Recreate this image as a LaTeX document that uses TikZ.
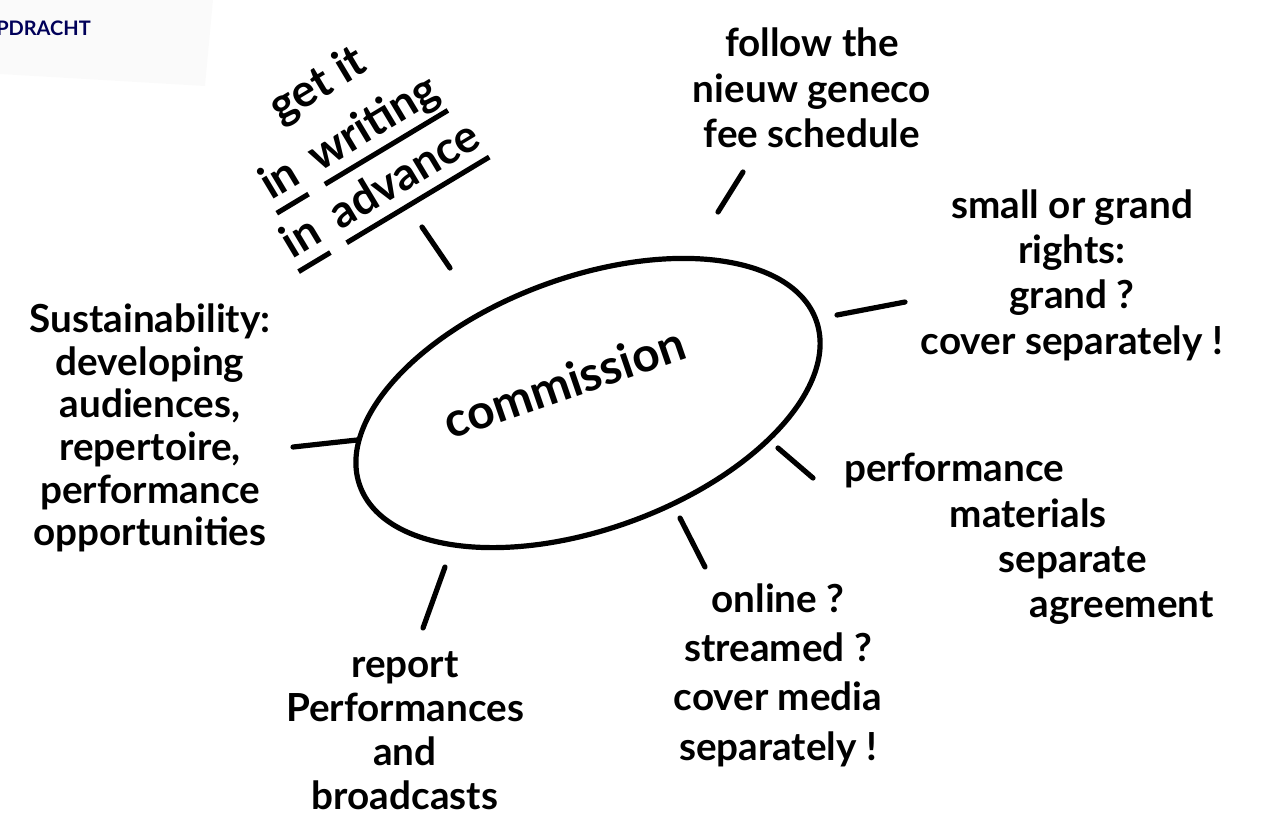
\documentclass[tikz,border=0pt]{standalone}
\usepackage{fontspec}
\setmainfont{Lato}
\usetikzlibrary{shapes.geometric}

\tikzset{
  scribble/.style={line width=3.9pt, line cap=round},
  hub/.style={draw, ellipse, line width=3.9pt, minimum width=364pt, minimum height=189pt, inner sep=0pt},
  note/.style={align=center, inner sep=0.75pt, font=\bfseries\fontsize{29}{34}\selectfont},
}
% underlined word, drawn as a thick stroke
\newcommand{\scrawlword}[1]{\setbox0=\hbox{#1}\rlap{\kern-1pt\raisebox{-12pt}{\rule{\wd0}{3.8pt}}}\box0\relax}

\begin{document}
\begin{tikzpicture}[x=0.75pt,y=0.75pt,yscale=-1,xscale=1]
  \useasboundingbox (0,0) rectangle (1274,819);
  %paper corner
  \fill[gray!4] (0,0) -- (213,0) -- (205,86) -- (0,74) -- cycle;

  % Text Node
  \node[anchor=west, inner sep=0pt, text=blue!35!black, font=\bfseries\fontsize{15}{18}\selectfont] (opdracht) at (-4,28) {PDRACHT};

  % Ellipse
  \node[hub, rotate=20] (comm) at (588,403) {};
  % Text Node
  \node[inner sep=0.75pt, rotate=19, font=\bfseries\fontsize{36}{40}\selectfont] (commtext) at (564,382) {commission};

  % Text Node
  \node[note, rotate=31, font=\bfseries\fontsize{34}{46}\selectfont] (writing) at (352,142) {get it\\ \scrawlword{in}\hspace{6pt} \scrawlword{writing}\\ \scrawlword{in}\hspace{6pt} \scrawlword{advance}};
  % Text Node
  \node[note] (fees) at (812,88) {follow the\\ nieuw geneco\\ fee schedule};
  % Text Node
  \node[note] (rights) at (1072,275) {small or grand\\ rights:\\ grand ?\\ cover separately !};
  % Text Node
  \node[note, align=left, anchor=north west] (materials) at (843,452) {performance\\ \hspace*{79pt}materials\\ \hspace*{116pt}separate\\ \hspace*{139pt}agreement};
  % Text Node
  \node[note, font=\bfseries\fontsize{29}{37}\selectfont] (online) at (778,675) {online ?\\ streamed ?\\ cover media\\ separately !};
  % Text Node
  \node[note, font=\bfseries\fontsize{29}{33}\selectfont] (report) at (405,731) {report\\ Performances\\ and\\ broadcasts};
  % Text Node
  \node[note, font=\bfseries\fontsize{29}{32}\selectfont] (sustain) at (150,428) {Sustainability:\\ developing\\ audiences,\\ repertoire,\\ performance\\ opportunities};

  % spoke ends
  \coordinate (wrA) at (422,227);  \coordinate (wrB) at (450,268);
  \coordinate (feA) at (743,172);  \coordinate (feB) at (718,212);
  \coordinate (riA) at (837,315);  \coordinate (riB) at (905,302);
  \coordinate (maA) at (778,448);  \coordinate (maB) at (813,478);
  \coordinate (onA) at (680,518);  \coordinate (onB) at (705,567);
  \coordinate (reA) at (445,567);  \coordinate (reB) at (423,628);
  \coordinate (suA) at (293,447);  \coordinate (suB) at (357,440);

  %Straight Lines
  \draw[scribble] (wrA) -- (wrB) ;
  %Straight Lines
  \draw[scribble] (feA) -- (feB) ;
  %Straight Lines
  \draw[scribble] (riA) -- (riB) ;
  %Straight Lines
  \draw[scribble] (maA) -- (maB) ;
  %Straight Lines
  \draw[scribble] (onA) -- (onB) ;
  %Straight Lines
  \draw[scribble] (reA) -- (reB) ;
  %Straight Lines
  \draw[scribble] (suA) -- (suB) ;
\end{tikzpicture}
\end{document}
